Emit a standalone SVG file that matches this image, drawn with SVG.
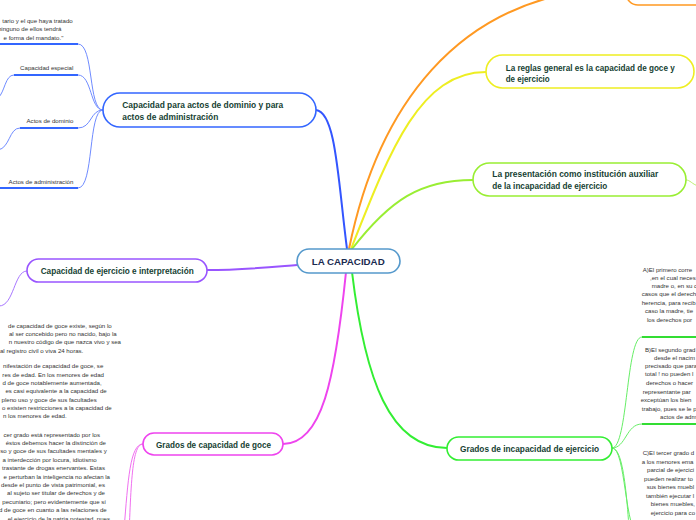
<svg xmlns="http://www.w3.org/2000/svg" width="696" height="520" viewBox="0 0 696 520">
<style>
.t{font-family:"Liberation Sans","DejaVu Sans",sans-serif;font-size:8.6px;font-weight:bold;fill:#163f33}
.c{font-family:"Liberation Sans","DejaVu Sans",sans-serif;font-size:9.5px;font-weight:bold;fill:#1a2a50}
.s{font-family:"Liberation Sans","DejaVu Sans",sans-serif;font-size:6.1px;fill:#333}
.n{fill:#fff;stroke-width:1.6}
.m{fill:none;stroke-width:2}
.b{fill:none;stroke-width:1}
.u{fill:none;stroke-width:1.8}
</style>
<rect width="696" height="520" fill="#fff"/>
<g id="connectors">
<path class="m" stroke="#3355ff" d="M347,249 C338,180 336,112 316,110"/>
<path class="m" stroke="#ff9922" d="M349,249 C375,120 450,-12 628,-12"/>
<path class="m" stroke="#eeee22" d="M351,249 C390,150 420,72 486,72"/>
<path class="m" stroke="#99ee33" d="M352,249 C390,200 420,180 473,180"/>
<path class="m" stroke="#33ee33" d="M352,272 C365,380 390,448 447,448"/>
<path class="m" stroke="#ee44ee" d="M346,272 C335,380 322,444 283,444"/>
<path class="m" stroke="#9955ff" d="M297,265 C260,268 240,270 207,270"/>
<path class="b" stroke="#6f8bff" d="M103,110 C88,110 94,44 78,44"/>
<path class="b" stroke="#6f8bff" d="M103,110 C90,110 92,75 78,75"/>
<path class="b" stroke="#6f8bff" d="M103,110 C90,110 92,128 78,128"/>
<path class="b" stroke="#6f8bff" d="M103,110 C88,110 94,188 78,188"/>
<path class="u" stroke="#3366ff" d="M0,44 L78,44 M14,75 L78,75 M20,128 L78,128 M0,188 L78,188"/>
<path class="b" stroke="#6f8bff" d="M14,75 C5,75 5,92 -2,98"/>
<path class="b" stroke="#6f8bff" d="M20,128 C9,128 10,148 -2,150"/>
<path class="b" stroke="#a877ff" d="M27,271 C14,271 14,306 -1,306"/>
<path class="b" stroke="#f070f0" d="M143,444 C130,444 128,480 124,530"/>
<path class="b" stroke="#f070f0" d="M143,444 C131,444 131,490 128,560"/>
<path class="b" stroke="#bbf070" d="M686,180 C690,180 692,184 698,186"/>
<path class="b" stroke="#66ee66" d="M612,448 C628,448 626,337 642,337"/>
<path class="b" stroke="#66ee66" d="M612,448 C626,448 626,424 642,424"/>
<path class="b" stroke="#66ee66" d="M612,448 C626,448 624,530 640,540"/>
<path class="b" stroke="#66ee66" d="M612,448 C626,448 628,520 632,570"/>
<path class="u" stroke="#33dd33" d="M642,337 L696,337 M642,424 L696,424"/>
</g>
<g id="center"><rect class="n" stroke="#5599cc" x="297" y="249" width="103" height="24" rx="12"/><text class="c" x="311.7" y="265" textLength="73" lengthAdjust="spacingAndGlyphs">LA CAPACIDAD</text></g>
<g id="n-actos"><rect class="n" stroke="#3366ff" x="103" y="93" width="213" height="34" rx="17"/><text class="t" x="122.3" y="108" textLength="161" lengthAdjust="spacingAndGlyphs">Capacidad para actos de dominio  y para</text><text class="t" x="122.3" y="120" textLength="96" lengthAdjust="spacingAndGlyphs">actos de administración</text></g>
<g id="n-ejercicio"><rect class="n" stroke="#9955ff" x="27" y="259" width="180" height="23" rx="11.5"/><text class="t" x="40.7" y="274" textLength="153" lengthAdjust="spacingAndGlyphs">Capacidad de ejercicio e interpretación</text></g>
<g id="n-goce"><rect class="n" stroke="#ee44ee" x="143" y="433" width="140" height="22" rx="11"/><text class="t" x="156" y="448" textLength="115" lengthAdjust="spacingAndGlyphs">Grados de capacidad de goce</text></g>
<g id="n-reglas"><rect class="n" stroke="#eeee22" x="486" y="55" width="208" height="33" rx="16.5"/><text class="t" x="505.7" y="70.5" textLength="169" lengthAdjust="spacingAndGlyphs">La reglas general es la capacidad de goce y</text><text class="t" x="505.7" y="82" textLength="44" lengthAdjust="spacingAndGlyphs">de ejercicio</text></g>
<g id="n-presentacion"><rect class="n" stroke="#99ee33" x="473" y="163" width="213" height="33" rx="16.5"/><text class="t" x="492.3" y="177" textLength="166" lengthAdjust="spacingAndGlyphs">La presentación como institución auxiliar</text><text class="t" x="492.3" y="188.5" textLength="115" lengthAdjust="spacingAndGlyphs">de la incapacidad de ejercicio</text></g>
<g id="n-incapacidad"><rect class="n" stroke="#33ee33" x="447" y="437" width="165" height="23" rx="11.5"/><text class="t" x="460" y="452" textLength="139" lengthAdjust="spacingAndGlyphs">Grados de incapacidad  de ejercicio</text></g>
<g id="n-orange"><rect class="n" stroke="#ff9922" x="626" y="-30" width="100" height="35" rx="12"/></g>
<g id="sub-actos" class="s" text-anchor="end">
<text x="72.7" y="23">tario y el que haya tratado</text>
<text x="61.3" y="31.3">ninguno de ellos tendrá</text>
<text x="63.3" y="40">e forma del mandato."</text>
<text x="73.3" y="70">Capacidad  especial</text>
<text x="73.3" y="123">Actos de dominio</text>
<text x="73.3" y="183.5">Actos de administración</text>
</g>
<g id="sub-goce" class="s" text-anchor="end">
<text x="111.7" y="328">de capacidad de goce existe, según lo</text>
<text x="116.7" y="336.2">al ser concebido pero no nacido, bajo la</text>
<text x="121" y="344.4">n nuestro código de que nazca vivo y sea</text>
<text x="83.3" y="352.6">al registro civil o viva 24 horas.</text>
<text x="103.3" y="368.3">nifestación de capacidad de goce, se</text>
<text x="104" y="376.6">res de edad. En los menores de edad</text>
<text x="101.7" y="384.9">d de goce notablemente  aumentada,</text>
<text x="106.7" y="393.2">es casi equivalente a la capacidad de</text>
<text x="96.7" y="401.5">n pleno uso y goce de sus facultades</text>
<text x="111.7" y="409.8">o existen restricciones  a la capacidad de</text>
<text x="66.7" y="418.1">n los menores de edad.</text>
<text x="100" y="436.6">cer grado está representado por los</text>
<text x="106" y="445">éstos debemos hacer la distinción  de</text>
<text x="106.7" y="453.4">so y goce de sus facultades mentales y</text>
<text x="96.7" y="461.8">a interdección por locura, idiotismo</text>
<text x="105" y="470.2">trastante de drogas enervantes. Estas</text>
<text x="110" y="478.6">e perturban la inteligencia no afectan la</text>
<text x="105" y="487">desde el punto de vista patrimonial, es</text>
<text x="105" y="495.4">al sujeto ser titular de derechos y de</text>
<text x="106" y="503.8">pecuniario; pero evidentemente que sí</text>
<text x="106.7" y="512.2">d de goce en cuanto a las relaciones de</text>
<text x="110" y="520.6">el ejercicio de la patria potestad, pues</text>
</g>
<g id="sub-incapacidad" class="s">
<text x="642.7" y="272.3">A)El primero corre</text>
<text x="650" y="280">,en el cual neces</text>
<text x="651.7" y="288.3">madre o, en su ca</text>
<text x="641.7" y="296.3">casos que el derech</text>
<text x="641.7" y="305">herencia, para recib</text>
<text x="645" y="313.3">caso la madre, tie</text>
<text x="647" y="322.3">los derechos por</text>
<text x="645" y="351.5">B)El segundo grad</text>
<text x="654" y="359.5">desde el nacim</text>
<text x="645" y="368">precisado que para</text>
<text x="645" y="376.3">total ! no pueden l</text>
<text x="646" y="385">derechos o hacer</text>
<text x="642.7" y="394">representante par</text>
<text x="640.7" y="402.3">exceptúan los bien</text>
<text x="641.7" y="410.6">trabajo, pues se le p</text>
<text x="660" y="419">actos de adm</text>
<text x="642.7" y="455">C)El tercer grado d</text>
<text x="641.7" y="464">a los menores ema</text>
<text x="647" y="472.3">parcial de ejercici</text>
<text x="644" y="480.6">pueden realizar to</text>
<text x="646.7" y="489">sus bienes muebl</text>
<text x="646" y="498">también ejecutar l</text>
<text x="650.7" y="506.3">bienes muebles,</text>
<text x="650.7" y="514.6">ejercicio para co</text>
</g>
</svg>
